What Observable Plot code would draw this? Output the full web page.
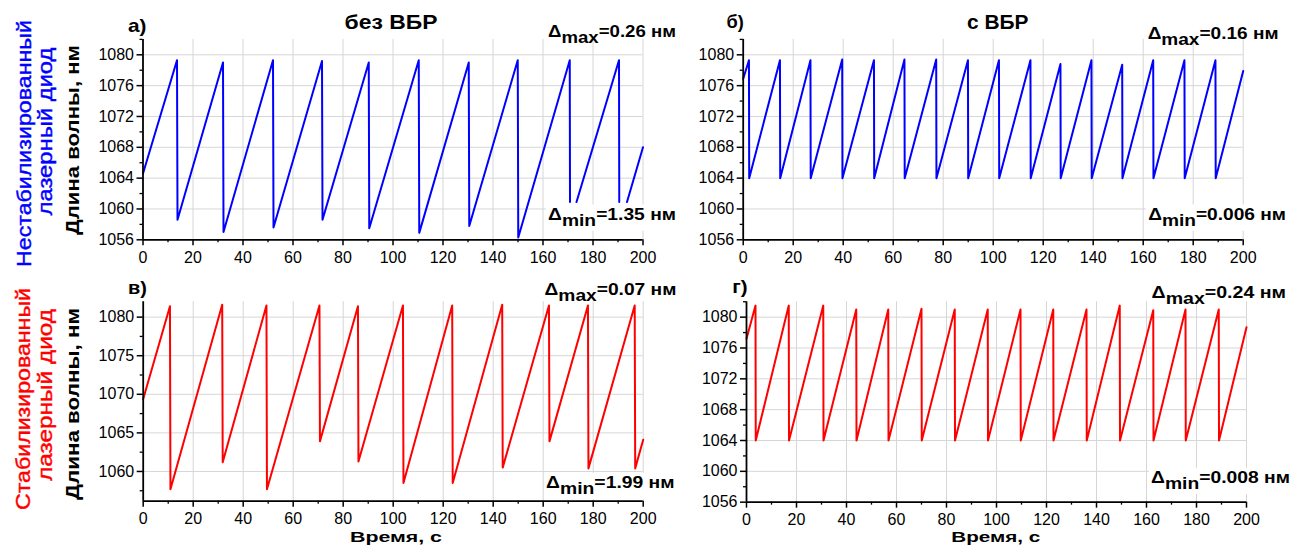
<!DOCTYPE html>
<html><head><meta charset="utf-8">
<script src="https://cdn.jsdelivr.net/npm/d3@7"></script>
<script src="https://cdn.jsdelivr.net/npm/@observablehq/plot@0.6"></script>
<style>
body{margin:0;background:#fff;}
#wrap{position:relative;width:1292px;height:546px;overflow:hidden;background:#fff;}
#wrap svg{position:absolute;}
</style></head><body><div id="wrap"></div>
<script>
// ---- data (time, s ; wavelength, nm) ----
const timeA = [0, 13.6, 13.8, 32.0, 32.2, 52.0, 52.2, 71.6, 71.8, 90.3, 90.5, 110.3, 110.5, 130.3, 130.5, 149.9, 150.1, 170.7, 170.8, 172.0, 173.4, 190.4, 190.5, 192.0, 193.6, 200];
const waveA = [1064.6, 1079.3, 1058.6, 1079.0, 1057.0, 1079.3, 1057.6, 1079.2, 1058.6, 1079.0, 1057.5, 1079.3, 1056.9, 1079.0, 1057.8, 1079.3, 1056.3, 1079.3, 1060.9, NaN, 1060.9, 1079.3, 1060.9, NaN, 1060.9, 1068.0];

const timeB = [0, 2.3, 2.4, 14.7, 14.8, 26.9, 27.0, 39.6, 39.7, 52.3, 52.4, 64.5, 64.6, 77.2, 77.3, 89.9, 90.0, 102.3, 102.4, 114.9, 115.0, 126.9, 127.0, 139.3, 139.4, 151.6, 151.7, 164.0, 164.1, 176.5, 176.6, 188.9, 189.0, 200];
const waveB = [1076.9, 1079.3, 1064.0, 1079.3, 1064.0, 1079.3, 1064.0, 1079.4, 1064.0, 1079.3, 1064.0, 1079.4, 1064.0, 1079.4, 1064.0, 1079.3, 1064.0, 1079.3, 1064.0, 1079.3, 1064.0, 1078.8, 1064.0, 1079.3, 1064.0, 1078.7, 1064.0, 1079.3, 1064.0, 1079.3, 1064.0, 1079.3, 1064.0, 1077.9];

const timeC = [0, 10.7, 10.9, 31.6, 31.8, 49.3, 49.5, 70.5, 70.7, 85.9, 86.1, 103.9, 104.1, 123.6, 123.8, 143.6, 143.8, 162.3, 162.5, 177.9, 178.1, 196.6, 196.8, 200];
const waveC = [1069.4, 1081.4, 1057.7, 1081.6, 1061.2, 1081.5, 1057.7, 1081.5, 1063.9, 1081.4, 1061.3, 1081.5, 1058.5, 1081.5, 1058.5, 1081.6, 1060.5, 1081.5, 1063.9, 1081.5, 1060.4, 1081.5, 1060.4, 1064.1];

const timeD = [0, 3.6, 3.7, 16.9, 17.0, 30.7, 30.8, 43.9, 44.0, 56.7, 56.8, 70.0, 70.1, 83.3, 83.4, 96.5, 96.6, 109.6, 109.7, 122.7, 122.8, 136.0, 136.1, 149.3, 149.4, 162.7, 162.8, 175.6, 175.7, 188.9, 189.0, 200];
const waveD = [1077.2, 1081.5, 1064.0, 1081.5, 1064.0, 1081.5, 1064.0, 1081.0, 1064.0, 1081.0, 1064.0, 1081.1, 1064.0, 1081.0, 1064.0, 1081.0, 1064.0, 1081.0, 1064.0, 1081.0, 1064.0, 1081.0, 1064.0, 1081.5, 1064.0, 1080.9, 1064.0, 1081.0, 1064.0, 1081.0, 1064.0, 1078.7];

// ---- ticks ----
const xMajor = [0, 20, 40, 60, 80, 100, 120, 140, 160, 180, 200];
const xMinor = [10, 30, 50, 70, 90, 110, 130, 150, 170, 190];
const yMajor4 = [1056, 1060, 1064, 1068, 1072, 1076, 1080];
const yMinor4 = [1058, 1062, 1066, 1070, 1074, 1078, 1082];
const yMajor5 = [1060, 1065, 1070, 1075, 1080];
const yMinor5 = [1057.5, 1062.5, 1067.5, 1072.5, 1077.5];

// ---- texts ----
const panelLetters = ["а)", "б)", "в)", "г)"];
const columnTitles = ["без ВБР", "с ВБР"];
const deltaMax = ["=0.26 нм", "=0.16 нм", "=0.07 нм", "=0.24 нм"];
const deltaMin = ["=1.35 нм", "=0.006 нм", "=1.99 нм", "=0.008 нм"];
const rowLabels = [["Нестабилизированный", "лазерный диод"], ["Стабилизированный", "лазерный диод"]];
const yTitle = "Длина волны, нм";
const xTitle = "Время, с";

const FONT = "'Liberation Sans', Arial, sans-serif";
const wrap = document.getElementById("wrap");

function panel(time, wave, o) {
  const p = Plot.plot({
    width: o.w, height: o.h,
    marginLeft: o.ml, marginRight: o.mr, marginTop: o.mt, marginBottom: o.mb,
    x: {domain: [0, 200]},
    y: {domain: o.yDomain},
    style: {fontFamily: FONT, fontSize: "16px", color: "#000", background: "none", overflow: "visible"},
    marks: [
      Plot.gridX(xMajor.slice(1), {stroke: "#d6d6d6", strokeOpacity: 1, strokeWidth: 1}),
      Plot.gridY(o.yMajor.filter(v => v > o.yDomain[0]), {stroke: "#d6d6d6", strokeOpacity: 1, strokeWidth: 1}),
      Plot.line(time, {x: time, y: wave, stroke: o.color, strokeWidth: 2}),
      Plot.axisX(xMinor, {tickSize: 3, text: null, label: null, strokeWidth: 1.3}),
      Plot.axisX(xMajor, {tickSize: 6, tickPadding: o.xPad, label: null, strokeWidth: 1.5, tickFormat: "d", fontSize: 16}),
      Plot.axisY(o.yMinor, {tickSize: 3, text: null, label: null, strokeWidth: 1.3}),
      Plot.axisY(o.yMajor, {tickSize: 6, tickPadding: 3, label: null, strokeWidth: 1.5, tickFormat: "d", fontSize: 16}),
      Plot.ruleX([0], {stroke: "#000", strokeWidth: 1.8}),
      Plot.ruleY([o.yDomain[0]], {stroke: "#000", strokeWidth: 1.8})
    ]
  });
  p.style.left = o.left + "px";
  p.style.top = o.top + "px";
  wrap.appendChild(p);
}

panel(timeA, waveA, {color: "#0000ff", left: 0, top: 0, w: 690, h: 270, ml: 142.5, mr: 47.5, mt: 38.9, mb: 30.7, xPad: 6, yDomain: [1056, 1082], yMajor: yMajor4, yMinor: yMinor4});
panel(timeB, waveB, {color: "#0000ff", left: 690, top: 0, w: 602, h: 270, ml: 52.7, mr: 49.3, mt: 38.9, mb: 30.7, xPad: 6, yDomain: [1056, 1082], yMajor: yMajor4, yMinor: yMinor4});
panel(timeC, waveC, {color: "#ff0000", left: 0, top: 270, w: 690, h: 276, ml: 142.7, mr: 47.3, mt: 31.2, mb: 45.33, xPad: 5, yDomain: [1056.15, 1082], yMajor: yMajor5, yMinor: yMinor5});
panel(timeD, waveD, {color: "#ff0000", left: 690, top: 270, w: 602, h: 276, ml: 56, mr: 46, mt: 31.25, mb: 44.33, xPad: 5, yDomain: [1056, 1082], yMajor: yMajor4, yMinor: yMinor4});

// ---- overlay text ----
const ov = d3.select(wrap).append("svg")
  .attr("width", 1292).attr("height", 546)
  .style("left", "0px").style("top", "0px")
  .style("font-family", FONT).style("pointer-events", "none");

function label(s) {
  const g = ov.append("g").attr("transform", `translate(${s.x},${s.y})` + (s.rotate ? ` rotate(${s.rotate})` : ""));
  const inner = g.append("g");
  const t = inner.append("text")
    .attr("text-anchor", s.anchor || "start")
    .attr("font-size", s.size)
    .attr("font-weight", s.weight || "normal")
    .attr("fill", s.fill || "#000");
  if (s.thick) t.attr("stroke", s.fill || "#000").attr("stroke-width", s.thick);
  for (const [str, dy] of s.parts) t.append("tspan").attr("dy", dy).text(str);
  if (s.width) {
    const w = t.node().getBBox().width;
    inner.attr("transform", `scale(${s.width / w},1)`);
  }
  if (s.bg) {
    const b = inner.node().getBBox();
    const sx = s.width ? s.width / t.node().getBBox().width : 1;
    g.insert("rect", ":first-child")
      .attr("x", b.x * sx - 2).attr("y", b.y - 1)
      .attr("width", b.width * sx + 4).attr("height", b.height + 2)
      .attr("fill", "#fff");
  }
}

const B = "bold";
// panel letters
label({parts: [[panelLetters[0], 0]], x: 128, y: 31.7, size: 18, weight: B, width: 18.5});
label({parts: [[panelLetters[1], 0]], x: 726.5, y: 28, size: 18, weight: B, width: 17.3});
label({parts: [[panelLetters[2], 0]], x: 128, y: 294, size: 18, weight: B, width: 19});
label({parts: [[panelLetters[3], 0]], x: 732.3, y: 292.7, size: 18, weight: B, width: 15.4});
// titles
label({parts: [[columnTitles[0], 0]], x: 391, y: 29.3, size: 20, weight: B, anchor: "middle", width: 93});
label({parts: [[columnTitles[1], 0]], x: 997.7, y: 29.3, size: 20, weight: B, anchor: "middle", width: 61.5});
// deltas
const dm = (sub, rest) => [["Δ", 0], [sub, 6], [rest, -6]];
label({parts: dm("max", deltaMax[0]), x: 676, y: 37.3, size: 16, weight: B, anchor: "end", width: 128});
label({parts: dm("min", deltaMin[0]), x: 676, y: 220, size: 16, weight: B, anchor: "end", width: 128, bg: true});
label({parts: dm("max", deltaMax[1]), x: 1278.5, y: 39.3, size: 16, weight: B, anchor: "end", width: 131});
label({parts: dm("min", deltaMin[1]), x: 1286, y: 220, size: 16, weight: B, anchor: "end", width: 138, bg: true});
label({parts: dm("max", deltaMax[2]), x: 676.4, y: 295, size: 16, weight: B, anchor: "end", width: 132});
label({parts: dm("min", deltaMin[2]), x: 674.6, y: 488.3, size: 16, weight: B, anchor: "end", width: 128.6, bg: true});
label({parts: dm("max", deltaMax[3]), x: 1286, y: 297.5, size: 16, weight: B, anchor: "end", width: 134.5});
label({parts: dm("min", deltaMin[3]), x: 1290, y: 483.3, size: 16, weight: B, anchor: "end", width: 139, bg: true});
// axis titles
label({parts: [[xTitle, 0]], x: 396, y: 542, size: 15, weight: B, anchor: "middle", width: 92});
label({parts: [[xTitle, 0]], x: 995.8, y: 542, size: 15, weight: B, anchor: "middle", width: 89});
label({parts: [[yTitle, 0]], x: 78.6, y: 140, size: 19, weight: B, anchor: "middle", rotate: -90, width: 190});
label({parts: [[yTitle, 0]], x: 79, y: 404, size: 19, weight: B, anchor: "middle", rotate: -90, width: 192});
// row labels
label({parts: [[rowLabels[0][0], 0]], x: 30.5, y: 143.5, size: 21, fill: "#0000ff", thick: 0.4, anchor: "middle", rotate: -90, width: 247});
label({parts: [[rowLabels[0][1], 0]], x: 51.5, y: 131.5, size: 21, fill: "#0000ff", thick: 0.4, anchor: "middle", rotate: -90, width: 168});
label({parts: [[rowLabels[1][0], 0]], x: 29.5, y: 399, size: 21, fill: "#ff0000", thick: 0.4, anchor: "middle", rotate: -90, width: 222});
label({parts: [[rowLabels[1][1], 0]], x: 52, y: 395, size: 21, fill: "#ff0000", thick: 0.4, anchor: "middle", rotate: -90, width: 172});
</script>
</body></html>
